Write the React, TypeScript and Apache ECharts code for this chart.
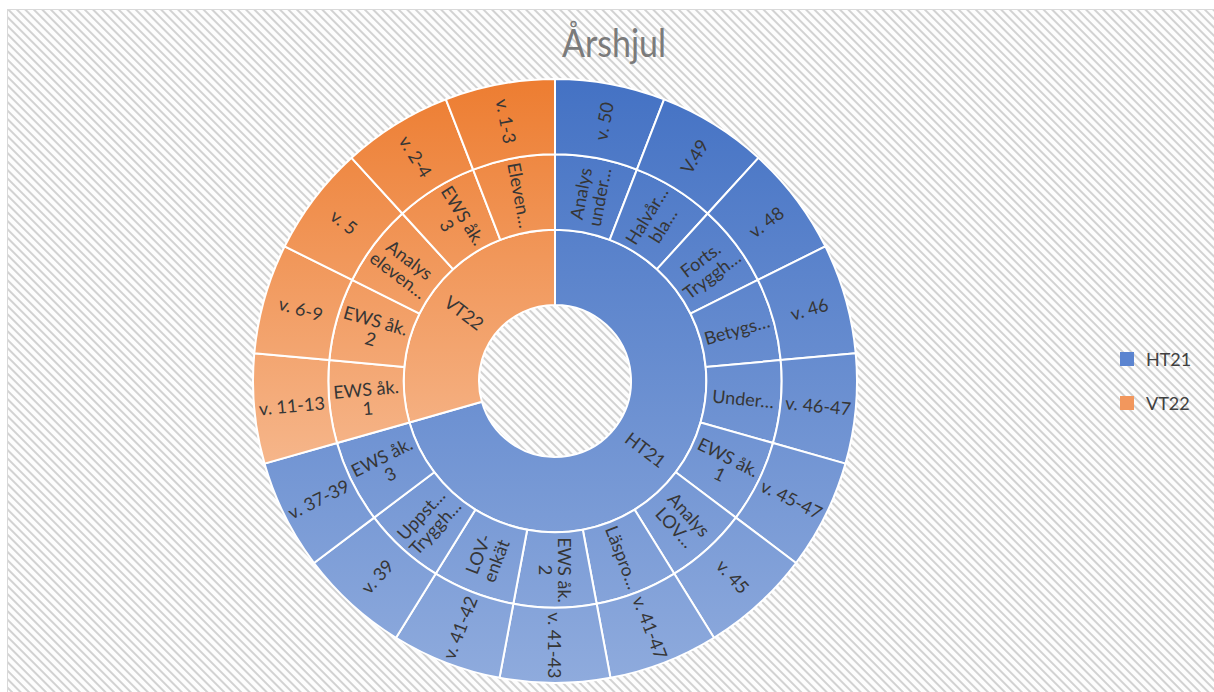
import React, { useEffect, useRef } from 'react';
import * as echarts from 'echarts';

const halves = ['HT21', 'VT22'];
const ht21Activities = ['Analys\nunder…', 'Halvår…\nbla…', 'Forts.\nTryggh…', 'Betygs…', 'Under…', 'EWS åk.\n1', 'Analys\nLOV…', 'Läspro…', 'EWS åk.\n2', 'LOV-\nenkät', 'Uppst…\nTryggh…', 'EWS åk.\n3'];
const ht21Weeks = ['v. 50', 'V.49', 'v. 48', 'v. 46', 'v. 46-47', 'v. 45-47', 'v. 45', 'v. 41-47', 'v. 41-43', 'v. 41-42', 'v. 39', 'v. 37-39'];
const ht21Values = [1, 1, 1, 1, 1, 1, 1, 1, 1, 1, 1, 1];
const vt22Activities = ['EWS åk.\n1', 'EWS åk.\n2', 'Analys\neleven…', 'EWS åk.\n3', 'Eleven…'];
const vt22Weeks = ['v. 11-13', 'v. 6-9', 'v. 5', 'v. 2-4', 'v. 1-3'];
const vt22Values = [1, 1, 1, 1, 1];

const FONT = 'Lato, "Open Sans", sans-serif';

function grad(c1: string, c2: string, y1: number, y2: number) {
  return new echarts.graphic.LinearGradient(0, y1, 0, y2, [
    { offset: 0, color: c1 },
    { offset: 1, color: c2 },
  ], true);
}

export default function App() {
  const ref = useRef<HTMLDivElement>(null);
  useEffect(() => {
    if (!ref.current) return;
    const chart = echarts.init(ref.current, null, { renderer: 'svg' });
    const blue = grad('#4472C4', '#8FABDD', 80, 684);
    const orange = grad('#ED7D31', '#F6B88E', 80, 480);
    const build = (acts: string[], weeks: string[], vals: number[], color: any) =>
      acts.map((a, i) => ({
        name: a,
        itemStyle: { color },
        children: [{ name: weeks[i], value: vals[i], itemStyle: { color } }],
      }));
    const data = [
      { name: halves[0], itemStyle: { color: blue }, children: build(ht21Activities, ht21Weeks, ht21Values, blue) },
      { name: halves[1], itemStyle: { color: orange }, children: build(vt22Activities, vt22Weeks, vt22Values, orange) },
    ];
    const labelStyle = { rotate: 'radial', color: '#363636', fontFamily: FONT, fontSize: 18, lineHeight: 19, align: 'center' };
    chart.setOption({
      animation: false,
      backgroundColor: 'transparent',
      series: [{
        type: 'sunburst',
        center: [555, 381],
        radius: [76, 302],
        sort: null,
        startAngle: 90,
        clockwise: true,
        nodeClick: false,
        emphasis: { disabled: true },
        data,
        itemStyle: { borderColor: '#ffffff', borderWidth: 2 },
        label: labelStyle,
        levels: [
          {},
          { label: labelStyle },
          { label: labelStyle },
          { label: labelStyle },
        ],
      }],
      graphic: [
        {
          type: 'text', x: 614, y: 49, scaleY: 1.15, originX: 614, originY: 49,
          style: { text: 'Årshjul', fill: '#7b7b7b', font: `34px ${FONT}`, textAlign: 'center', textVerticalAlign: 'middle' },
        },
        { type: 'rect', shape: { x: 1120, y: 352, width: 14, height: 14 }, style: { fill: '#5b84d0' } },
        {
          type: 'text', x: 1146, y: 359,
          style: { text: halves[0], fill: '#404040', font: `18px ${FONT}`, textVerticalAlign: 'middle' },
        },
        { type: 'rect', shape: { x: 1120, y: 396, width: 14, height: 14 }, style: { fill: '#f2975d' } },
        {
          type: 'text', x: 1146, y: 403,
          style: { text: halves[1], fill: '#404040', font: `18px ${FONT}`, textVerticalAlign: 'middle' },
        },
      ],
    });
    return () => chart.dispose();
  }, []);
  return (
    <div style={{ position: 'fixed', left: 0, top: 0, width: 1214, height: 692, background: '#ffffff', overflow: 'hidden' }}>
      <div
        style={{
          position: 'absolute', left: 7, top: 9, width: 1220, height: 700,
          borderLeft: '1px solid #d9d9d9', borderTop: '1px solid #d9d9d9',
          background: 'repeating-linear-gradient(45deg, #fdfdfd 0px, #fdfdfd 2px, #d2d2d2 3px, #d2d2d2 4px, #fdfdfd 5px, #fdfdfd 6px)',
        }}
      />
      <div ref={ref} style={{ position: 'absolute', left: 0, top: 0, width: 1214, height: 692 }} />
    </div>
  );
}
